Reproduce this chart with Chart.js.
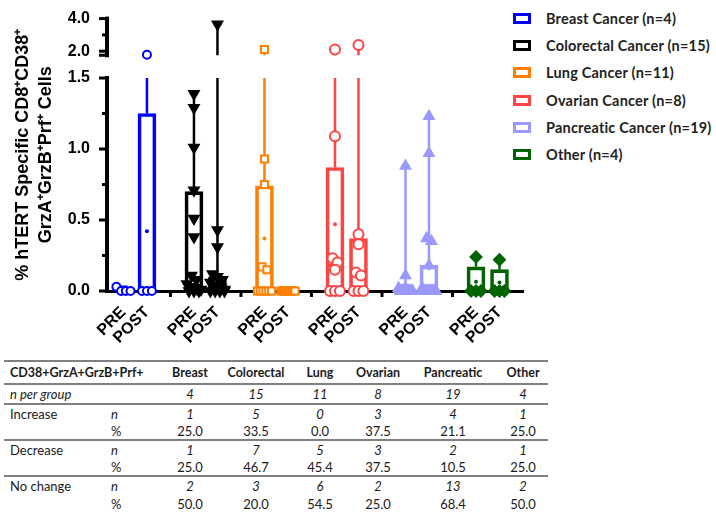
<!DOCTYPE html>
<html>
<head>
<meta charset="utf-8">
<script src="https://cdn.jsdelivr.net/npm/chart.js@4.4.1/dist/chart.umd.min.js"></script>
<style>
  body { margin: 0; background: #fff; font-family: Lato, "Liberation Sans", sans-serif; }
  #wrap { position: relative; width: 716px; height: 512px; }
  #myChart { position: absolute; left: 0; top: 0; z-index: 5; display: block; }
  #legend { position: absolute; left: 513px; top: 5px; z-index: 1; }
  .item { display: flex; align-items: center; height: 27.2px; font-weight: bold; font-size: 14.5px; letter-spacing: 0.2px; color: #222; white-space: nowrap; }
  .swatch { box-sizing: border-box; width: 18px; height: 11px; border: 3px solid; margin-right: 15px; }
  table { position: absolute; left: 4px; top: 360px; z-index: 1; border-collapse: separate; border-spacing: 0; font-size: 13px; color: #1a1a1a; }
  td { box-sizing: border-box; padding: 0; height: 18px; line-height: 16px; text-align: center; white-space: nowrap; }
  td.lab { text-align: left; padding-left: 6px; }
  tr.head td { height: 25px; font-weight: bold; font-size: 12.5px; border-top: 2px solid #808080; border-bottom: 2px solid #808080; }
  tr.first td { height: 20px; }
  tr.rule td { border-bottom: 2px solid #808080; }
  .it { font-style: italic; }
</style>
</head>
<body>
<div id="wrap">
  <div id="legend"></div>
  <table id="tbl"></table>
  <canvas id="myChart" width="716" height="352"></canvas>
</div>
<script>
const groups = ['Breast Cancer (n=4)', 'Colorectal Cancer (n=15)', 'Lung Cancer (n=11)',
                'Ovarian Cancer (n=8)', 'Pancreatic Cancer (n=19)', 'Other (n=4)'];
const colors = ['#0000ff', '#000000', '#ff8000', '#ff4444', '#9999ff', '#006400'];
const timeLabels = ['PRE', 'POST'];

// individual values, % of cells
const breastPre = [0.03, 0, 0, 0];
const breastPost = [1.78, 0, 0, 0];
const colorectalPre = [1.39, 1.29, 1.01, 0.71, 0.51, 0.38, 0.11, 0.08, 0.05, 0.03, 0.02, 0.01, 0, 0, 0];
const colorectalPost = [3.66, 0.43, 0.31, 0.12, 0.10, 0.08, 0.06, 0.04, 0.03, 0.02, 0.01, 0, 0, 0, 0];
const lungPre = [2.1, 0.93, 0.75, 0.17, 0.15, 0, 0, 0, 0, 0, 0];
const lungPost = [0, 0, 0, 0, 0, 0, 0, 0, 0, 0, 0];
const ovarianPre = [2.1, 1.09, 0.23, 0.20, 0.15, 0, 0, 0];
const ovarianPost = [2.38, 0.40, 0.33, 0.13, 0.11, 0, 0, 0];
const pancreaticPre = [0.88, 0.11, 0.02, 0.01, 0, 0, 0, 0, 0, 0, 0, 0, 0, 0, 0, 0, 0, 0, 0];
const pancreaticPost = [1.23, 0.97, 0.37, 0.35, 0.18, 0.02, 0.01, 0, 0, 0, 0, 0, 0, 0, 0, 0, 0, 0, 0];
const otherPre = [0.24, 0, 0, 0];
const otherPost = [0.22, 0, 0, 0];

const valuesPre = [breastPre, colorectalPre, lungPre, ovarianPre, pancreaticPre, otherPre];
const valuesPost = [breastPost, colorectalPost, lungPost, ovarianPost, pancreaticPost, otherPost];

// box tops (upper quartile), medians and means
const boxTopPre = [0, 0.70, 0.74, 0.87, 0.01, 0.17];
const boxTopPost = [1.25, 0.10, 0, 0.37, 0.18, 0.15];
const medianPre = [0, 0.04, 0, 0.18, 0, 0];
const medianPost = [0, 0.02, 0, 0.12, 0, 0];
const meanPre = [0.01, 0.37, 0.37, 0.47, 0.05, 0.065];
const meanPost = [0.42, 0.32, 0, 0.40, 0.16, 0.06];

const yTicks = [0, 0.5, 1.0, 1.5, 2.0, 4.0];
const yMinorTicks = [0.25, 0.75, 1.25, 3.0];

// table under the chart
const tableCols = ['Breast', 'Colorectal', 'Lung', 'Ovarian', 'Pancreatic', 'Other'];
const nPerGroup = [4, 15, 11, 8, 19, 4];
const increaseN = [1, 5, 0, 3, 4, 1];
const increasePct = ['25.0', '33.5', '0.0', '37.5', '21.1', '25.0'];
const decreaseN = [1, 7, 5, 3, 2, 1];
const decreasePct = ['25.0', '46.7', '45.4', '37.5', '10.5', '25.0'];
const noChangeN = [2, 3, 6, 2, 13, 2];
const noChangePct = ['50.0', '20.0', '54.5', '25.0', '68.4', '50.0'];

const markers = [
  { style: 'circle', radius: 4, fill: '#fff', rot: 0 },
  { style: 'triangle', radius: 5.5, fill: null, rot: 180 },
  { style: 'rect', radius: 5, fill: '#fff', rot: 0 },
  { style: 'circle', radius: 5, fill: '#fff', rot: 0 },
  { style: 'triangle', radius: 5.5, fill: null, rot: 0 },
  { style: 'rectRot', radius: 5.5, fill: null, rot: 0 }
];

// broken y axis: 0-1.5 below, 1.75-4 above, with a gap
const BREAK_AT = 1.5;
const UPPER_MIN = 1.75;
const UPPER_SHARE = 37 / 275;
const GAP_SHARE = 23 / 275;

class BrokenLinearScale extends Chart.LinearScale {
  segments() {
    const h = this.bottom - this.top;
    const upperBottom = this.top + h * UPPER_SHARE;
    return { upperBottom: upperBottom, lowerTop: upperBottom + h * GAP_SHARE };
  }
  getPixelForValue(value) {
    const s = this.segments();
    if (value <= BREAK_AT) {
      return this.bottom - (value - this.min) / (BREAK_AT - this.min) * (this.bottom - s.lowerTop);
    }
    return s.upperBottom - (value - UPPER_MIN) / (this.max - UPPER_MIN) * (s.upperBottom - this.top);
  }
  getValueForPixel(pixel) {
    const s = this.segments();
    if (pixel >= s.lowerTop) {
      return this.min + (this.bottom - pixel) / (this.bottom - s.lowerTop) * (BREAK_AT - this.min);
    }
    return UPPER_MIN + (s.upperBottom - pixel) / (s.upperBottom - this.top) * (this.max - UPPER_MIN);
  }
}
BrokenLinearScale.id = 'brokenLinear';
BrokenLinearScale.defaults = Chart.LinearScale.defaults;
Chart.register(BrokenLinearScale);

// x position of a group's PRE / POST column
function colX(g, t) { return 6 * g + 2 + 2 * t; }

// spread overlapping points sideways, like a column scatter
function spread(values, center) {
  const sorted = values.slice().sort((a, b) => b - a);
  const out = [];
  let i = 0;
  while (i < sorted.length) {
    let j = i;
    while (j + 1 < sorted.length && sorted[i] - sorted[j + 1] < 0.05) j++;
    const k = j - i + 1;
    const w = Math.min(0.6, 0.42 * (k - 1) / 2);
    for (let m = 0; m < k; m++) {
      out.push({ x: center + (k === 1 ? 0 : -w + 2 * w * m / (k - 1)), y: sorted[i + m] });
    }
    i = j + 1;
  }
  return out;
}

const datasets = [];
groups.forEach((name, g) => {
  datasets.push({
    type: 'bar',
    label: name,
    data: [
      { x: colX(g, 0), y: [0, boxTopPre[g]] },
      { x: colX(g, 1), y: [0, boxTopPost[g]] }
    ],
    backgroundColor: 'rgba(255,255,255,0)',
    borderColor: colors[g],
    borderWidth: 3,
    borderSkipped: false,
    barThickness: 18,
    grouped: false,
    clip: false,
    order: 3
  });
  const mk = markers[g];
  datasets.push({
    type: 'line',
    label: name + ' points',
    data: spread(valuesPre[g], colX(g, 0)).concat(spread(valuesPost[g], colX(g, 1))),
    showLine: false,
    pointStyle: mk.style,
    pointRotation: mk.rot,
    pointRadius: mk.radius,
    pointBorderWidth: 2,
    pointBorderColor: colors[g],
    pointBackgroundColor: mk.fill || colors[g],
    clip: false,
    order: 1
  });
});

const medianData = [], meanData = [], centerColors = [];
groups.forEach((name, g) => {
  medianData.push({ x: colX(g, 0), y: medianPre[g] }, { x: colX(g, 1), y: medianPost[g] });
  meanData.push({ x: colX(g, 0), y: meanPre[g] }, { x: colX(g, 1), y: meanPost[g] });
  centerColors.push(colors[g], colors[g]);
});
datasets.push({
  type: 'line', label: 'median', data: medianData, showLine: false,
  pointStyle: 'line', pointRadius: 8, pointBorderWidth: 3,
  pointBorderColor: centerColors, clip: false, order: 2
});
datasets.push({
  type: 'line', label: 'mean', data: meanData, showLine: false,
  pointStyle: 'circle', pointRadius: 2, pointBorderWidth: 0,
  pointBackgroundColor: centerColors, clip: false, order: 2
});

// whiskers to the max value
const whiskers = {
  id: 'whiskers',
  beforeDatasetsDraw(chart) {
    const ctx = chart.ctx, x = chart.scales.x, y = chart.scales.y;
    const s = y.segments();
    ctx.save();
    groups.forEach((name, g) => {
      [valuesPre[g], valuesPost[g]].forEach((vals, t) => {
        const top = t === 0 ? boxTopPre[g] : boxTopPost[g];
        const max = Math.max(...vals);
        if (max <= top) return;
        const px = x.getPixelForValue(colX(g, t));
        ctx.strokeStyle = colors[g];
        ctx.lineWidth = 2.5;
        ctx.beginPath();
        ctx.moveTo(px, y.getPixelForValue(top));
        if (max > BREAK_AT) {
          ctx.lineTo(px, s.lowerTop);
          ctx.moveTo(px, s.upperBottom);
        }
        const pm = y.getPixelForValue(max);
        ctx.lineTo(px, pm);
        ctx.moveTo(px - 4, pm);
        ctx.lineTo(px + 4, pm);
        ctx.stroke();
      });
    });
    ctx.restore();
  }
};

// the broken y axis line, its ticks, and the group separator ticks on x
const axisMarks = {
  id: 'axisMarks',
  afterDraw(chart) {
    const ctx = chart.ctx, x = chart.scales.x, y = chart.scales.y;
    const s = y.segments();
    const ax = Math.round(y.right);
    ctx.save();
    ctx.fillStyle = '#000';
    ctx.fillRect(ax - 2, y.top - 2, 4, s.upperBottom - y.top + 4);
    ctx.fillRect(ax - 8, s.upperBottom - 1.5, 8, 3);
    ctx.fillRect(ax - 2, s.lowerTop - 2, 4, y.bottom - s.lowerTop + 4);
    yTicks.forEach(v => {
      ctx.fillRect(ax - 8, y.getPixelForValue(v) - 1.5, 8, 3);
    });
    yMinorTicks.forEach(v => {
      ctx.fillRect(ax - 5, y.getPixelForValue(v) - 1.5, 5, 3);
    });
    groups.forEach((name, g) => {
      if (g === 0) return;
      ctx.fillRect(x.getPixelForValue(6 * g) - 1.5, x.top, 3, 6);
    });
    ctx.restore();
  }
};

const xTickValues = [];
groups.forEach((name, g) => {
  xTickValues.push(colX(g, 0), colX(g, 1));
});

const axisFont = { family: '"Liberation Sans", Arial, sans-serif', size: 16, weight: 'bold' };

new Chart("myChart", {
  type: 'bar',
  data: { datasets: datasets },
  options: {
    responsive: false,
    animation: false,
    events: [],
    layout: { padding: { top: 15.5, right: 193, left: 0, bottom: 0 } },
    plugins: { legend: { display: false }, tooltip: { enabled: false } },
    scales: {
      x: {
        type: 'linear',
        min: 0.6,
        max: 36,
        offset: false,
        afterBuildTicks: s => { s.ticks = xTickValues.map(v => ({ value: v })); },
        afterFit: s => { s.height = 61; },
        border: { display: true, width: 3, color: '#000' },
        grid: { display: false, offset: false },
        ticks: {
          autoSkip: false,
          minRotation: 45,
          maxRotation: 45,
          padding: 4,
          color: '#000',
          font: axisFont,
          callback: v => timeLabels[(v % 6) / 2 - 1]
        }
      },
      y: {
        type: 'brokenLinear',
        min: 0,
        max: 4,
        afterBuildTicks: s => { s.ticks = yTicks.map(v => ({ value: v })); },
        afterFit: s => { s.width = 107; },
        border: { display: false },
        grid: { display: false },
        ticks: {
          autoSkip: false,
          padding: 9,
          color: '#000',
          font: axisFont,
          callback: v => v.toFixed(1)
        },
        title: {
          display: true,
          text: ['% hTERT Specific CD8\u207ACD38\u207A', 'GrzA\u207AGrzB\u207APrf\u207A Cells'],
          color: '#000',
          font: { family: '"Liberation Sans", Arial, sans-serif', size: 18, weight: 'bold', lineHeight: 1.3 },
          padding: { top: 11, bottom: 0 }
        }
      }
    }
  },
  plugins: [whiskers, axisMarks]
});

// legend
const legend = document.getElementById('legend');
groups.forEach((name, g) => {
  const item = document.createElement('div');
  item.className = 'item';
  item.innerHTML = '<span class="swatch" style="border-color:' + colors[g] + '"></span>' + name;
  legend.appendChild(item);
});

// table
const colWidths = [101, 55, 60, 72, 56, 60, 90, 50];
function row(cells, cls) {
  return '<tr' + (cls ? ' class="' + cls + '"' : '') + '>' + cells.join('') + '</tr>';
}
function nums(arr, italic) {
  return arr.map(v => '<td' + (italic ? ' class="it"' : '') + '>' + v + '</td>');
}
let html = '<colgroup>' + colWidths.map(w => '<col style="width:' + w + 'px">').join('') + '</colgroup>';
html += row(['<td class="lab" colspan="2">CD38+GrzA+GrzB+Prf+</td>'].concat(tableCols.map(c => '<td>' + c + '</td>')), 'head');
html += row(['<td class="lab it" colspan="2">n per group</td>'].concat(nums(nPerGroup, true)), 'first rule');
html += row(['<td class="lab">Increase</td>', '<td class="lab it">n</td>'].concat(nums(increaseN, true)));
html += row(['<td></td>', '<td class="lab">%</td>'].concat(nums(increasePct, false)), 'rule');
html += row(['<td class="lab">Decrease</td>', '<td class="lab it">n</td>'].concat(nums(decreaseN, true)));
html += row(['<td></td>', '<td class="lab">%</td>'].concat(nums(decreasePct, false)), 'rule');
html += row(['<td class="lab">No change</td>', '<td class="lab it">n</td>'].concat(nums(noChangeN, true)));
html += row(['<td></td>', '<td class="lab">%</td>'].concat(nums(noChangePct, false)));
document.getElementById('tbl').innerHTML = html;
</script>
</body>
</html>
